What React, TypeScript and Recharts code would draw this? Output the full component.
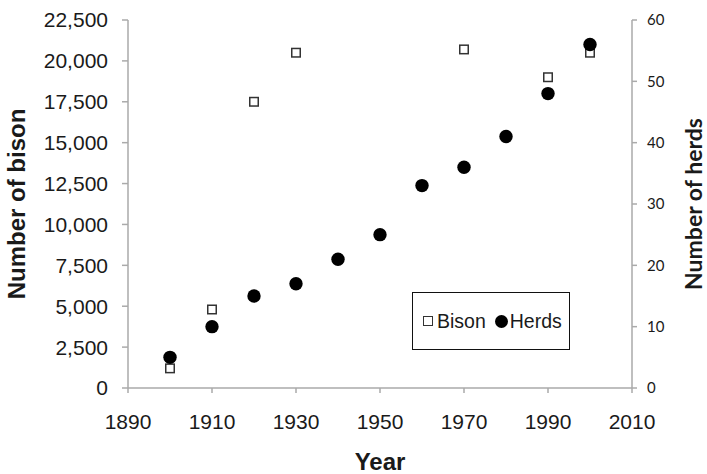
import React from 'react'
import { ScatterChart, Scatter, XAxis, YAxis, Legend } from 'recharts'

// values
const bisonYears = [1900, 1910, 1920, 1930, 1970, 1990, 2000]
const bisonCounts = [1200, 4800, 17500, 20500, 20700, 19000, 20500]

const herdYears = [1900, 1910, 1920, 1930, 1940, 1950, 1960, 1970, 1980, 1990, 2000]
const herdCounts = [5, 10, 15, 17, 21, 25, 33, 36, 41, 48, 56]

const yearTicks = [1890, 1910, 1930, 1950, 1970, 1990, 2010]
const bisonTicks = [0, 2500, 5000, 7500, 10000, 12500, 15000, 17500, 20000, 22500]
const herdTicks = [0, 10, 20, 30, 40, 50, 60]

const bisonData = bisonYears.map((year, i) => ({ year, value: bisonCounts[i] }))
const herdData = herdYears.map((year, i) => ({ year, value: herdCounts[i] }))

const ARIAL = '"Liberation Sans", Arial, sans-serif'
const CALIBRI = 'Lato, "Open Sans", sans-serif'
const AXIS = '#aaaaaa'
const INK = '#1a1a1a'

const SquareDot = (props: any) => {
  const { cx, cy } = props
  const s = 8.5
  return <rect x={cx - s / 2} y={cy - s / 2} width={s} height={s} fill="#fff" stroke="#333" strokeWidth={1.5} />
}

const RoundDot = (props: any) => {
  const { cx, cy } = props
  return <circle cx={cx} cy={cy} r={6.7} fill="#000" />
}

const LegendBox = () => (
  <div
    style={{
      boxSizing: 'border-box',
      width: 158,
      height: 58,
      border: '1.5px solid #111',
      display: 'flex',
      alignItems: 'center',
      paddingLeft: 10,
      fontFamily: ARIAL,
      fontSize: 19.5,
      color: INK,
      background: '#fff'
    }}
  >
    <span style={{ display: 'inline-block', width: 8, height: 8, border: '1.5px solid #333', marginRight: 4 }} />
    <span>Bison</span>
    <span style={{ display: 'inline-block', width: 13, height: 13, borderRadius: '50%', background: '#000', marginLeft: 9, marginRight: 2 }} />
    <span>Herds</span>
  </div>
)

export default function App() {
  return (
    <div style={{ position: 'absolute', left: 0, top: 0, width: 707, height: 474, background: '#fff' }}>
      <ScatterChart width={707} height={474} margin={{ top: 20, right: 0, bottom: 0, left: 0 }}>
        <XAxis
          type="number"
          dataKey="year"
          domain={[1890, 2010]}
          ticks={yearTicks}
          height={86}
          tickSize={5}
          tickMargin={21}
          stroke={AXIS}
          strokeWidth={1.5}
          tick={{ fill: INK, fontSize: 21, fontFamily: ARIAL }}
          label={{ value: 'Year', position: 'insideBottom', offset: 4, style: { fontSize: 24, fontWeight: 700, fontFamily: ARIAL, fill: INK } }}
        />
        <YAxis
          yAxisId="left"
          orientation="left"
          type="number"
          dataKey="value"
          domain={[0, 22500]}
          ticks={bisonTicks}
          width={128}
          tickSize={6}
          tickMargin={14}
          stroke={AXIS}
          strokeWidth={1.5}
          tickFormatter={(v: number) => v.toLocaleString('en-US')}
          tick={{ fill: INK, fontSize: 21, fontFamily: ARIAL }}
          label={{ value: 'Number of bison', angle: -90, position: 'insideLeft', offset: 16, style: { textAnchor: 'middle', fontSize: 24, fontWeight: 700, fontFamily: ARIAL, fill: INK } }}
        />
        <YAxis
          yAxisId="right"
          orientation="right"
          type="number"
          dataKey="value"
          domain={[0, 60]}
          ticks={herdTicks}
          width={75}
          tickSize={5}
          tickMargin={10}
          stroke={AXIS}
          strokeWidth={1.5}
          tick={{ fill: INK, fontSize: 15, fontFamily: CALIBRI }}
          label={{ value: 'Number of herds', angle: -90, position: 'insideRight', offset: 13, style: { textAnchor: 'middle', fontSize: 23, fontWeight: 700, fontFamily: CALIBRI, fill: INK } }}
        />
        <Legend
          layout="horizontal"
          align="center"
          verticalAlign="middle"
          wrapperStyle={{ left: 412, top: 292, width: 158, height: 58 }}
          content={() => <LegendBox />}
        />
        <Scatter name="Bison" yAxisId="left" data={bisonData} shape={SquareDot} isAnimationActive={false} />
        <Scatter name="Herds" yAxisId="right" data={herdData} shape={RoundDot} isAnimationActive={false} />
      </ScatterChart>
    </div>
  )
}
